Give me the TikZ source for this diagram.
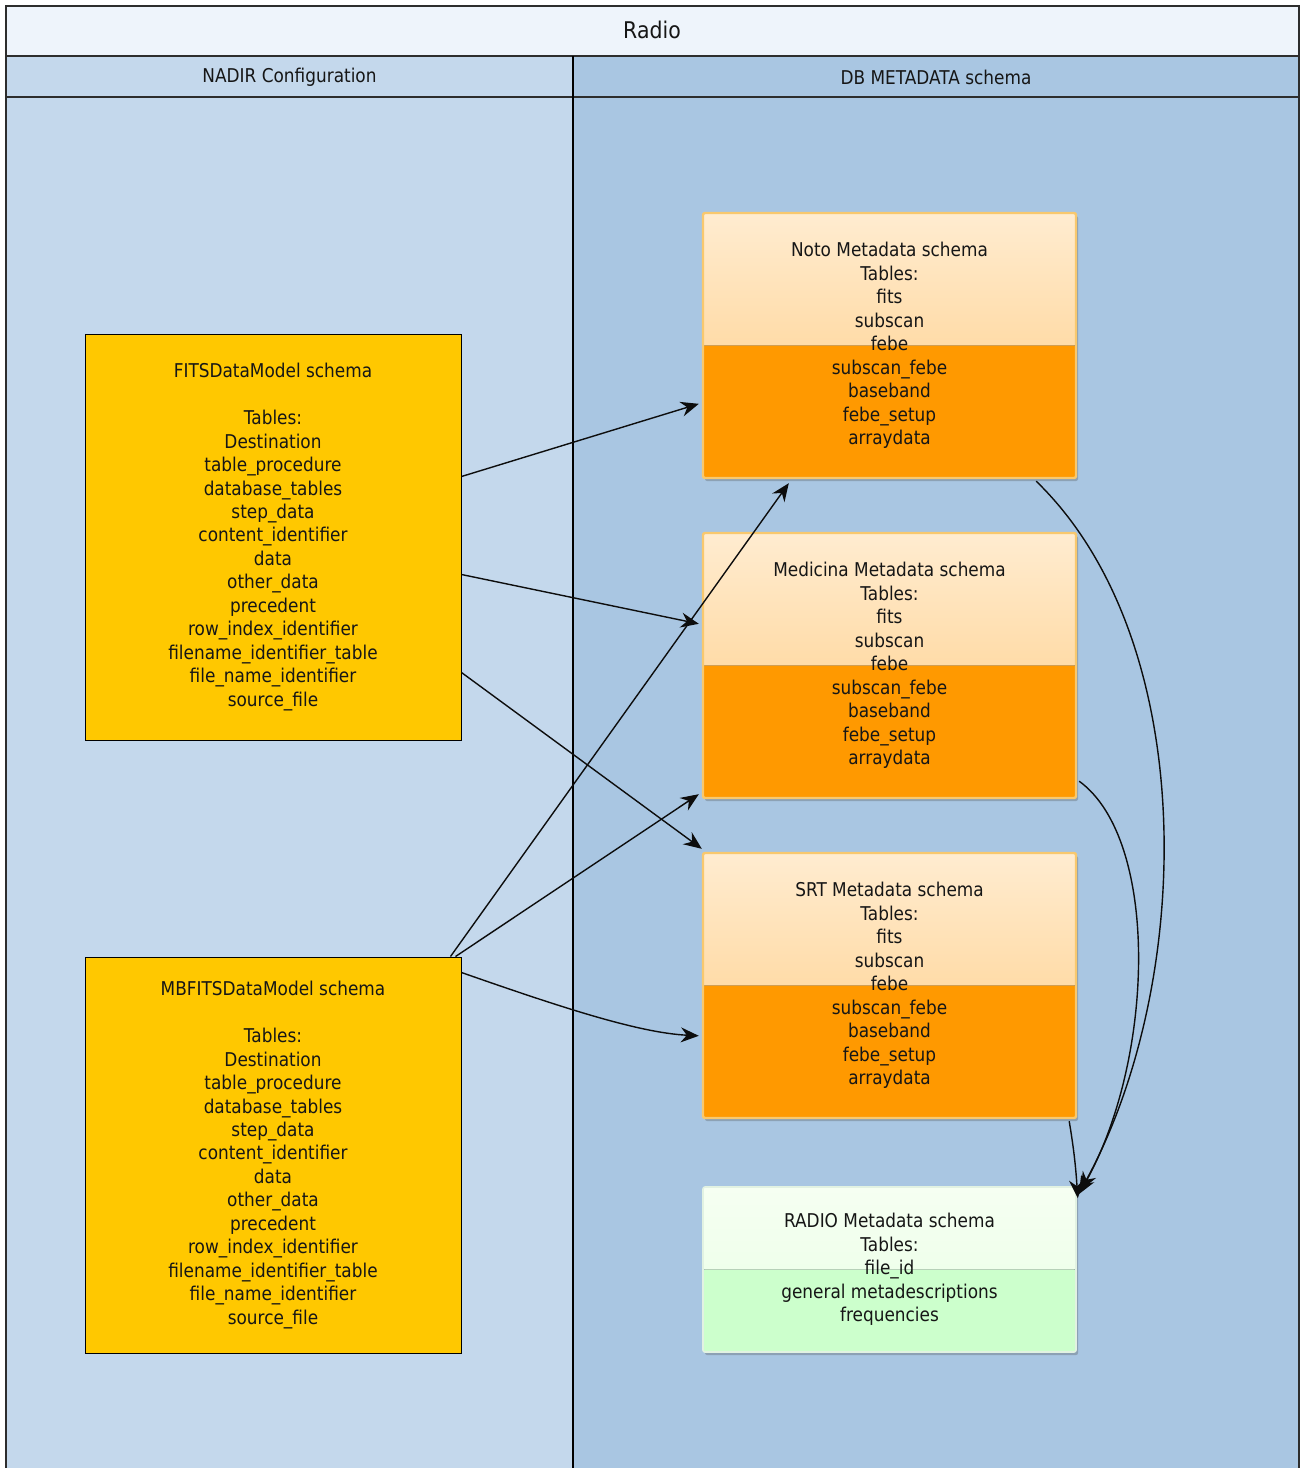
\documentclass[tikz,border=0pt]{standalone}
\usepackage{fontspec}
\setmainfont{DejaVu Sans}[FakeStretch=0.89]
\usetikzlibrary{arrows.meta,shadows}
\definecolor{titlefill}{RGB}{238,244,251}
\definecolor{leftlane}{RGB}{196,216,236}
\definecolor{rightlane}{RGB}{169,198,226}
\definecolor{poolline}{RGB}{45,45,45}
\definecolor{fitsyellow}{RGB}{255,200,0}
\definecolor{orangetop}{RGB}{255,236,208}
\definecolor{orangemid}{RGB}{255,203,128}
\definecolor{orangebot}{RGB}{255,153,0}
\definecolor{orangeborder}{RGB}{248,200,110}
\definecolor{greentop}{RGB}{246,255,242}
\definecolor{greenmid}{RGB}{232,255,228}
\definecolor{greenbot}{RGB}{204,255,204}
\definecolor{greenborder}{RGB}{226,242,226}
\definecolor{textcol}{RGB}{22,22,22}
\newcommand\dgboxfont{\fontsize{19}{23.45}\selectfont}
\newcommand\dgtitlefont{\fontsize{23}{28}\selectfont}
\begin{document}
\begin{tikzpicture}[x=1pt,y=-1pt,
  lanehead/.style={font=\dgboxfont, text=textcol, inner sep=0pt},
  pooltitle/.style={font=\dgtitlefont, text=textcol, inner sep=0pt},
  fitsbox/.style={draw=black, line width=1pt, fill=fitsyellow, align=center,
    inner sep=0pt, font=\dgboxfont, text=textcol, minimum width=376pt},
  schemabox/.style={draw=orangeborder, line width=2.4pt, rounded corners=2pt,
    minimum width=373pt, minimum height=265pt, align=center, inner sep=0pt,
    font=\dgboxfont, text=textcol,
    drop shadow={shadow xshift=2pt, shadow yshift=-3pt, opacity=0.3, fill=black!70},
    path picture={
      \fill[top color=orangetop, bottom color=orangemid]
        (path picture bounding box.north west) rectangle (path picture bounding box.east);
      \fill[orangebot]
        (path picture bounding box.west) rectangle (path picture bounding box.south east);
    }},
  radiobox/.style={draw=greenborder, line width=1.6pt, rounded corners=2pt,
    minimum width=373pt, minimum height=165pt, align=center, inner sep=0pt,
    font=\dgboxfont, text=textcol,
    drop shadow={shadow xshift=2pt, shadow yshift=-3pt, opacity=0.3, fill=black!70},
    path picture={
      \fill[top color=greentop, bottom color=greenmid]
        (path picture bounding box.north west) rectangle (path picture bounding box.east);
      \fill[greenbot]
        (path picture bounding box.west) rectangle (path picture bounding box.south east);
    }},
  conn/.style={draw=black!95, line width=1.4pt,
    -{Stealth[length=18pt,width=15pt,inset=6pt]}}
]
\useasboundingbox (0,0) rectangle (1302,1468);
% pool and lanes
\fill[white] (0,0) rectangle (1302,1468);
\fill[titlefill] (6,6) rectangle (1299,56);
\fill[leftlane] (6,56) rectangle (573,1468);
\fill[rightlane] (573,56) rectangle (1299,1468);
\draw[poolline, line width=1.5pt] (6,1468) -- (6,6) -- (1299,6) -- (1299,1468);
\draw[poolline, line width=1.3pt] (6,56) -- (1299,56);
\draw[poolline, line width=1.3pt] (6,97) -- (1299,97);
\draw[black, line width=1.3pt] (573,56) -- (573,1468);
\node[pooltitle] (title) at (652,30) {Radio};
\node[lanehead] (lane1) at (289.5,77) {NADIR Configuration};
\node[lanehead] (lane2) at (936,77) {DB METADATA schema};

% left boxes
\node[fitsbox, minimum height=406pt] (fits) at (273,537)
  {FITSDataModel schema\\ \strut\\ Tables:\\ Destination\\ table\_procedure\\ database\_tables\\ step\_data\\ content\_identifier\\ data\\ other\_data\\ precedent\\ row\_index\_identifier\\ filename\_identifier\_table\\ file\_name\_identifier\\ source\_file};
\node[fitsbox, minimum height=396pt] (mbfits) at (273,1155)
  {MBFITSDataModel schema\\ \strut\\ Tables:\\ Destination\\ table\_procedure\\ database\_tables\\ step\_data\\ content\_identifier\\ data\\ other\_data\\ precedent\\ row\_index\_identifier\\ filename\_identifier\_table\\ file\_name\_identifier\\ source\_file};

% right boxes
\node[schemabox] (noto) at (889.5,345.5)
  {Noto Metadata schema\\ Tables:\\ fits\\ subscan\\ febe\\ subscan\_febe\\ baseband\\ febe\_setup\\ arraydata};
\node[schemabox] (med) at (889.5,665.5)
  {Medicina Metadata schema\\ Tables:\\ fits\\ subscan\\ febe\\ subscan\_febe\\ baseband\\ febe\_setup\\ arraydata};
\node[schemabox] (srt) at (889.5,985.5)
  {SRT Metadata schema\\ Tables:\\ fits\\ subscan\\ febe\\ subscan\_febe\\ baseband\\ febe\_setup\\ arraydata};
\node[radiobox] (radio) at (889.5,1269.5)
  {RADIO Metadata schema\\ Tables:\\ file\_id\\ general metadescriptions\\ frequencies};

% connectors
\draw[conn] ([yshift=-143pt]fits.north east) -- ([xshift=-3pt,yshift=-192pt]noto.north west);
\draw[conn] ([yshift=-241pt]fits.north east) -- ([xshift=-3pt,yshift=-92pt]med.north west);
\draw[conn] ([yshift=-339pt]fits.north east) -- ([yshift=3pt]srt.north west);
\draw[conn] ([xshift=-11pt]mbfits.north east) -- ([xshift=87pt,yshift=-4pt]noto.south west);
\draw[conn] ([xshift=-6pt]mbfits.north east) -- ([xshift=-3pt,yshift=5pt]med.south west);
\draw[conn] ([yshift=-16pt]mbfits.north east) .. controls +(100,35) and +(-60,-3) .. ([xshift=-3pt,yshift=-184pt]srt.north west);
\draw[conn] ([xshift=-41pt,yshift=-2pt]noto.south east) .. controls (1200,640) and (1195,980) .. ([xshift=4pt,yshift=-4pt]radio.north east);
\draw[conn] ([xshift=2pt,yshift=18pt]med.south east) .. controls (1160,840) and (1155,1060) .. ([xshift=2pt,yshift=-8pt]radio.north east);
\draw[conn] ([xshift=-8pt,yshift=-2pt]srt.south east) .. controls +(5,30) and +(-2,-30) .. ([xshift=1pt,yshift=-12pt]radio.north east);
\end{tikzpicture}
\end{document}
